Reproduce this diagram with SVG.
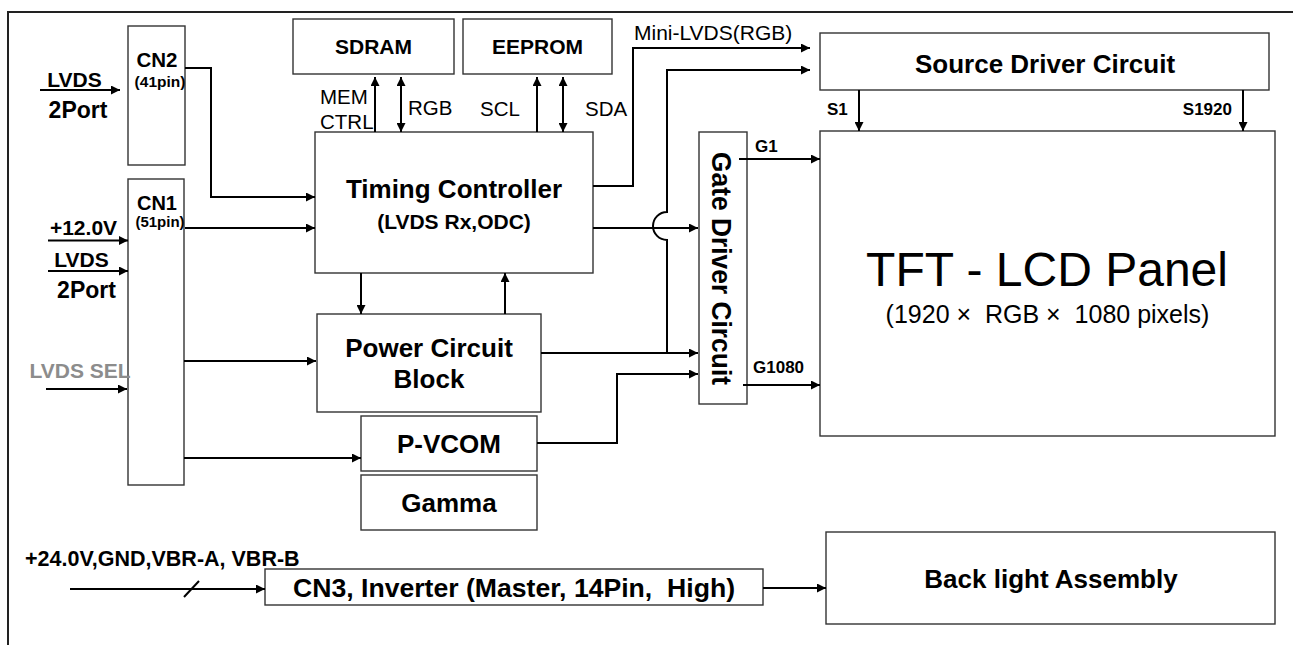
<svg xmlns="http://www.w3.org/2000/svg" width="1295" height="645" viewBox="0 0 1295 645">
<style>
text{font-family:"Liberation Sans",Arial,sans-serif;fill:#000}
.b{font-weight:bold}
.box{fill:#fff;stroke:#333;stroke-width:1.4}
.c{fill:none;stroke:#000;stroke-width:2}
.ca{fill:none;stroke:#000;stroke-width:2;marker-end:url(#ah)}
.cd{fill:none;stroke:#000;stroke-width:2;marker-start:url(#ah);marker-end:url(#ah)}
.mid{text-anchor:middle}
</style>
<defs>
<marker id="ah" viewBox="0 0 10 10" refX="10" refY="5" markerWidth="11" markerHeight="9" markerUnits="userSpaceOnUse" orient="auto-start-reverse">
<path d="M0,0 L10,5 L0,10 z" fill="#000"/>
</marker>
</defs>
<rect width="1295" height="645" fill="#fff"/>
<g id="frame">
<path d="M8,645 V12 H1293" fill="none" stroke="#222" stroke-width="2"/>
</g>

<g id="cn2">
<rect class="box" x="128" y="26" width="57" height="139"/>
<text class="b mid" x="157" y="67" font-size="20.5">CN2</text>
<text class="b mid" x="160" y="87" font-size="15.5">(41pin)</text>
</g>
<g id="cn1">
<rect class="box" x="128" y="179" width="56" height="306"/>
<text class="b mid" x="157" y="210" font-size="20">CN1</text>
<text class="b mid" x="160" y="227" font-size="15">(51pin)</text>
</g>
<g id="sdram">
<rect class="box" x="293" y="19" width="161" height="55"/>
<text class="b mid" x="373.5" y="54" font-size="21">SDRAM</text>
</g>
<g id="eeprom">
<rect class="box" x="463" y="19" width="149" height="55"/>
<text class="b mid" x="537.5" y="54" font-size="21">EEPROM</text>
</g>
<g id="timing">
<rect class="box" x="315" y="132" width="278" height="141"/>
<text class="b mid" x="454" y="198" font-size="26">Timing Controller</text>
<text class="b mid" x="454" y="229" font-size="21">(LVDS Rx,ODC)</text>
</g>
<g id="power">
<rect class="box" x="317" y="314" width="224" height="98"/>
<text class="b mid" x="429" y="357" font-size="26">Power Circuit</text>
<text class="b mid" x="429" y="388" font-size="26">Block</text>
</g>
<g id="pvcom">
<rect class="box" x="361" y="416" width="176" height="55"/>
<text class="b mid" x="449" y="453" font-size="26">P-VCOM</text>
</g>
<g id="gamma">
<rect class="box" x="361" y="475" width="176" height="55"/>
<text class="b mid" x="449" y="512" font-size="26">Gamma</text>
</g>
<g id="gate">
<rect class="box" x="699" y="132" width="48" height="272"/>
<text class="b mid" transform="translate(712,268.5) rotate(90)" font-size="28" textLength="233" lengthAdjust="spacingAndGlyphs">Gate Driver Circuit</text>
</g>
<g id="source">
<rect class="box" x="820" y="33" width="449" height="57"/>
<text class="b mid" x="1045" y="73" font-size="26">Source Driver Circuit</text>
</g>
<g id="panel">
<rect class="box" x="820" y="131" width="455" height="305"/>
<text class="mid" x="1047" y="286" font-size="48">TFT - LCD Panel</text>
<text class="mid" x="1047.5" y="323" font-size="25" xml:space="preserve">(1920 ×  RGB ×  1080 pixels)</text>
</g>
<g id="inverter">
<rect class="box" x="265" y="569" width="498" height="36"/>
<text class="b mid" x="514" y="597" font-size="25" textLength="442" lengthAdjust="spacingAndGlyphs" xml:space="preserve">CN3, Inverter (Master, 14Pin,  High)</text>
</g>
<g id="backlight">
<rect class="box" x="826" y="532" width="449" height="92"/>
<text class="b mid" x="1051" y="588" font-size="26">Back light Assembly</text>
</g>

<g id="labels">
<text class="b mid" x="74.5" y="87" font-size="21">LVDS</text>
<text class="b mid" x="78" y="118" font-size="23">2Port</text>
<text class="b mid" x="83.5" y="235" font-size="21">+12.0V</text>
<text class="b mid" x="81.5" y="267" font-size="21">LVDS</text>
<text class="b mid" x="86.5" y="298" font-size="23">2Port</text>
<text class="b mid" x="80" y="378" font-size="21" style="fill:#8c8c8c">LVDS SEL</text>
<text x="320" y="104" font-size="20.5">MEM</text>
<text x="320" y="129" font-size="20.5">CTRL</text>
<text x="408" y="115" font-size="20.5">RGB</text>
<text x="480" y="116" font-size="20.5">SCL</text>
<text x="585" y="116" font-size="20.5">SDA</text>
<text x="634" y="40" font-size="21">Mini-LVDS(RGB)</text>
<text class="b" x="827" y="115" font-size="17">S1</text>
<text class="b" x="1232" y="115" font-size="17" text-anchor="end">S1920</text>
<text class="b" x="755" y="152" font-size="17">G1</text>
<text class="b" x="753" y="373" font-size="17">G1080</text>
<text class="b" x="25" y="566" font-size="21.5">+24.0V,GND,VBR-A, VBR-B</text>
</g>

<g id="connectors">
<path class="ca" d="M40,90 H120"/>
<path class="ca" d="M48,240.5 H128"/>
<path class="ca" d="M48,271 H128"/>
<path class="ca" d="M46,389 H127"/>
<path class="ca" d="M185,68 H211 V197 H315"/>
<path class="ca" d="M185,228 H315"/>
<path class="ca" d="M184,361 H316"/>
<path class="ca" d="M184,458 H361"/>
<path class="ca" d="M375,132 V77"/>
<path class="cd" d="M401,77 V132"/>
<path class="ca" d="M537,132 V77"/>
<path class="cd" d="M563,77 V132"/>
<path class="ca" d="M361,273 V314"/>
<path class="ca" d="M505,314 V273"/>
<path class="ca" d="M593,186 H633 V48 H810"/>
<path class="ca" d="M667,353 V240 A14,14 0 0 1 667,212 V70 H810"/>
<path class="ca" d="M593,228 H698"/>
<path class="ca" d="M541,353 H698"/>
<path class="ca" d="M537,443 H617 V374 H698"/>
<path class="ca" d="M739,159 H820"/>
<path class="ca" d="M743,385 H820"/>
<path class="ca" d="M859,90 V131"/>
<path class="ca" d="M1243,90 V131"/>
<path class="ca" d="M70,589 H265"/>
<path class="c" d="M184,597 L199,581" stroke-width="1.5"/>
<path class="ca" d="M763,588 H826"/>
</g>
</svg>
